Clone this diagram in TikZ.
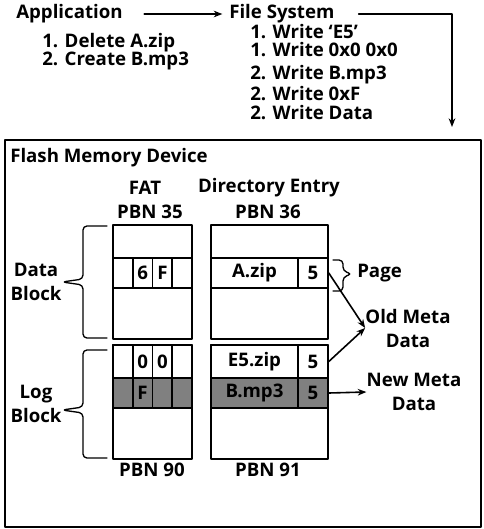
\documentclass[tikz,border=0pt]{standalone}
\usepackage{fontspec}
\setmainfont{Open Sans}
\usetikzlibrary{arrows.meta}
\tikzset{
    lbl/.style={font=\fontsize{14}{15}\selectfont\bfseries, inner sep=0pt},
    twoline/.style={lbl, align=center, font=\fontsize{14}{18}\selectfont\bfseries},
    blk/.style={draw, line width=1.2pt},
    cell/.style={draw, line width=1.2pt, inner sep=0pt, minimum height=22.5pt,
        font=\fontsize{14}{15}\selectfont\bfseries},
    dark/.style={fill=black!50},
    brc/.style={line width=1pt, rounded corners=3pt},
    conn/.style={->, line width=1.2pt},
}
\begin{document}
\begin{tikzpicture}[x=0.75pt, y=-0.75pt, >={Stealth[length=6.5pt, width=5pt]}, line join=round, line cap=round]
    \useasboundingbox (0,0) rectangle (483,529);
    % top: application and file system
    \node[lbl, anchor=west] (app) at (16,14) {Application};
    \node[lbl, anchor=west] (fs) at (229,14) {File System};
    \coordinate (fsin) at (452,127);
    \draw[conn, shorten <=16pt, shorten >=5pt] (app) -- (fs);
    \draw[conn, shorten <=18pt] (fs.east) -| (fsin);
    \foreach \y/\id/\text in {43/del/1. Delete A.zip, 61/crt/2. Create B.mp3} {
        \node[lbl, anchor=west] (\id) at (42,\y) {\text};
    }
    \foreach \y/\id/\text in {
        32/we/1. Write ‘E5’, 50/wz/1. Write 0x0 0x0,
        75/wb/2. Write B.mp3, 94/wf/2. Write 0xF, 113/wd/2. Write Data%
    } {
        \node[lbl, anchor=west] (\id) at (250,\y) {\text};
    }
    % flash memory device
    \draw[line width=1.2pt] (5,140) rectangle (481,527);
    \node[lbl, anchor=west] (dev) at (10,158) {Flash Memory Device};
    \foreach \x/\y/\id/\text in {
        145/188/fat/FAT, 269/188/dir/Directory Entry,
        150/212/p35/PBN 35, 268/212/p36/PBN 36,
        152/470/p90/PBN 90, 268/470/p91/PBN 91%
    } {
        \node[lbl] (\id) at (\x,\y) {\text};
    }
    \foreach \y in {225,345} {
        \draw[blk] (113,\y) rectangle (192,\y+114);
        \draw[blk] (211,\y) rectangle (328,\y+114);
    }
    % FAT cells
    \foreach \x/\id/\text in {122.9/a/, 142.6/b/6, 162.4/c/F, 182.1/d/} {
        \node[cell, minimum width=14.81pt] (fd\id) at (\x,273) {\text};
    }
    \foreach \x/\id/\text in {122.9/a/, 142.6/b/0, 162.4/c/0, 182.1/d/} {
        \node[cell, minimum width=14.81pt, minimum height=24.75pt] (fl\id) at (\x,361.5) {\text};
    }
    \foreach \x/\id/\text in {122.9/a/, 142.6/b/F, 162.4/c/, 182.1/d/} {
        \node[cell, dark, minimum width=14.81pt] (fn\id) at (\x,393) {\text};
    }
    % directory entry cells
    \node[cell, minimum width=65.25pt] (azip) at (254.5,273) {A.zip};
    \node[cell, minimum width=22.5pt] (azip5) at (313,273) {5};
    \node[cell, minimum width=65.25pt, minimum height=24.75pt] (ezip) at (254.5,361.5) {E5.zip};
    \node[cell, minimum width=22.5pt, minimum height=24.75pt] (ezip5) at (313,361.5) {5};
    \node[cell, dark, minimum width=65.25pt] (bmp) at (254.5,393) {B.mp3};
    \node[cell, dark, minimum width=22.5pt] (bmp5) at (313,393) {5};
    % braces
    \draw[brc] (107,226) -- (83,226) -- (83,279) -- (62,282) -- (83,285) -- (83,338) -- (107,338);
    \draw[brc] (107,350) -- (83,350) -- (83,407) -- (62,410) -- (83,413) -- (83,458) -- (107,458);
    \draw[brc] (333,260) -- (343,260) -- (343,271) -- (352,274) -- (343,277) -- (343,291) -- (333,291);
    \node[twoline] (datablk) at (36,282) {Data\\Block};
    \node[twoline] (logblk) at (36,404) {Log\\Block};
    \node[lbl, anchor=west] (page) at (357,273) {Page};
    \node[twoline] (old) at (408,328) {Old Meta\\Data};
    \node[twoline] (new) at (414,392) {New Meta\\Data};
    \draw[conn] (azip5.east) -- (old.west);
    \draw[conn] (ezip5.east) -- (old.west);
    \draw[conn] (bmp5.east) -- (new.west);
\end{tikzpicture}
\end{document}
